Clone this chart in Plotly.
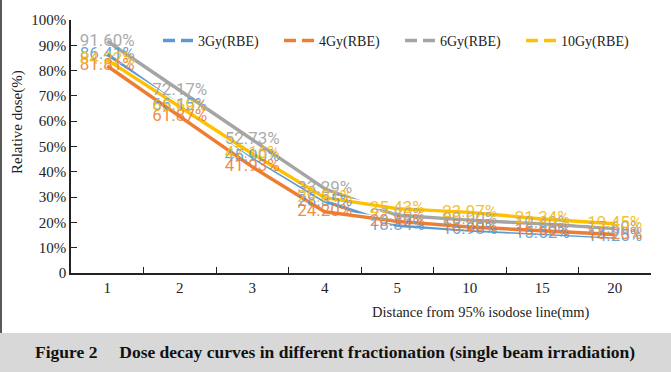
import plotly.graph_objects as go

categories = ["1", "2", "3", "4", "5", "10", "15", "20"]
series_names = ["3Gy(RBE)", "4Gy(RBE)", "6Gy(RBE)", "10Gy(RBE)"]
dose_3gy = [86.41, 66.15, 45.90, 28.35, 18.84, 16.98, 15.52, 14.25]
dose_4gy = [81.81, 61.87, 41.93, 24.20, 20.40, 18.20, 16.60, 15.20]
dose_6gy = [91.60, 72.17, 52.73, 33.29, 22.80, 20.90, 19.40, 17.60]
dose_10gy = [84.22, 65.69, 47.16, 29.81, 25.43, 23.97, 21.34, 19.45]
y_tick_vals = [0, 10, 20, 30, 40, 50, 60, 70, 80, 90, 100]
y_tick_text = ["0", "10%", "20%", "30%", "40%", "50%", "60%", "70%", "80%", "90%", "100%"]

series_values = [dose_3gy, dose_4gy, dose_6gy, dose_10gy]
line_colors = ["#5B9BD5", "#ED7D31", "#A5A5A5", "#FFC000"]
label_colors = ["rgba(91,155,213,0.9)", "rgba(237,125,49,0.9)", "rgba(165,165,165,0.95)", "rgba(245,185,20,0.9)"]

W, H = 671, 372
L, R, T, B = 71, 20, 20, 99
pw, ph = W - L - R, H - T - B

def px_x(x):
    return (x - L) / pw

def px_y(y):
    return (H - B - y) / ph

SERIF = "Liberation Serif, Times New Roman, serif"
LABEL_FONT = "Roboto, Liberation Sans, sans-serif"

fig = go.Figure()

# lines (white outline + colored line)
for name, vals, col in zip(series_names, series_values, line_colors):
    fig.add_trace(go.Scatter(x=categories, y=vals, mode="lines",
                             line=dict(color="white", width=6),
                             showlegend=False, hoverinfo="skip"))
    fig.add_trace(go.Scatter(x=categories, y=vals, mode="lines",
                             line=dict(color=col, width=3.4),
                             showlegend=False, name=name))

# data labels on top of all lines
for name, vals, col in zip(series_names, series_values, label_colors):
    fig.add_trace(go.Scatter(x=categories, y=vals, mode="text",
                             text=[f"{v:.2f}%" for v in vals],
                             textposition="middle center",
                             textfont=dict(family=LABEL_FONT, size=17, color=col),
                             showlegend=False, hoverinfo="skip"))

# legend entries (dashed symbols)
for name, col in zip(series_names, line_colors):
    fig.add_trace(go.Scatter(x=[None], y=[None], mode="lines", name=name,
                             line=dict(color=col, width=3.5, dash="12px,6px")))

fig.update_layout(
    width=W, height=H,
    margin=dict(l=L, r=R, t=T, b=B, autoexpand=False),
    paper_bgcolor="white", plot_bgcolor="white",
    font=dict(family=SERIF, color="#222222"),
    showlegend=True,
    legend=dict(orientation="h", x=px_x(158), xanchor="left", y=px_y(41), yanchor="middle",
                font=dict(family=SERIF, size=14, color="#222222"),
                bgcolor="rgba(0,0,0,0)", entrywidth=76, entrywidthmode="pixels",
                tracegroupgap=0),
    xaxis=dict(type="category", range=[-0.5, 7.5], showgrid=False, zeroline=False,
               showline=True, linecolor="#222222", linewidth=2,
               ticks="inside", ticklen=6, tickcolor="#222222", tickwidth=1,
               tickson="boundaries",
               tickfont=dict(family=SERIF, size=15, color="#222222")),
    yaxis=dict(range=[0, 100], tickvals=y_tick_vals, ticktext=y_tick_text,
               showgrid=False, zeroline=False, showline=True, linecolor="#222222",
               linewidth=1.5, ticks="inside", ticklen=6, tickcolor="#222222",
               tickfont=dict(family=SERIF, size=15, color="#222222")),
    shapes=[
        dict(type="rect", xref="paper", yref="paper", x0=px_x(0), x1=px_x(W),
             y0=px_y(H), y1=px_y(333), fillcolor="#D8D8D8", line=dict(width=0), layer="below"),
        dict(type="line", xref="paper", yref="paper", x0=px_x(1), x1=px_x(1),
             y0=px_y(333), y1=px_y(0), line=dict(color="#222222", width=1.5)),
    ],
    annotations=[
        dict(text="Relative dose(%)", xref="paper", yref="paper", x=px_x(17), y=px_y(122),
             textangle=-90, showarrow=False, font=dict(family=SERIF, size=15, color="#222222"),
             xanchor="center", yanchor="middle"),
        dict(text="Distance from 95% isodose line(mm)", xref="paper", yref="paper",
             x=px_x(481), y=px_y(312), showarrow=False,
             font=dict(family=SERIF, size=14.5, color="#222222"),
             xanchor="center", yanchor="middle"),
        dict(text="<b>Figure 2\u00a0\u00a0\u00a0\u00a0 Dose decay curves in different fractionation (single beam irradiation)</b>",
             xref="paper", yref="paper", x=px_x(335), y=px_y(352), showarrow=False,
             font=dict(family=SERIF, size=17.5, color="#111111"),
             xanchor="center", yanchor="middle"),
    ],
)

fig.write_html("out.html", config={"displayModeBar": False},
               post_script="document.body.style.margin='0';document.body.style.overflow='hidden';")
